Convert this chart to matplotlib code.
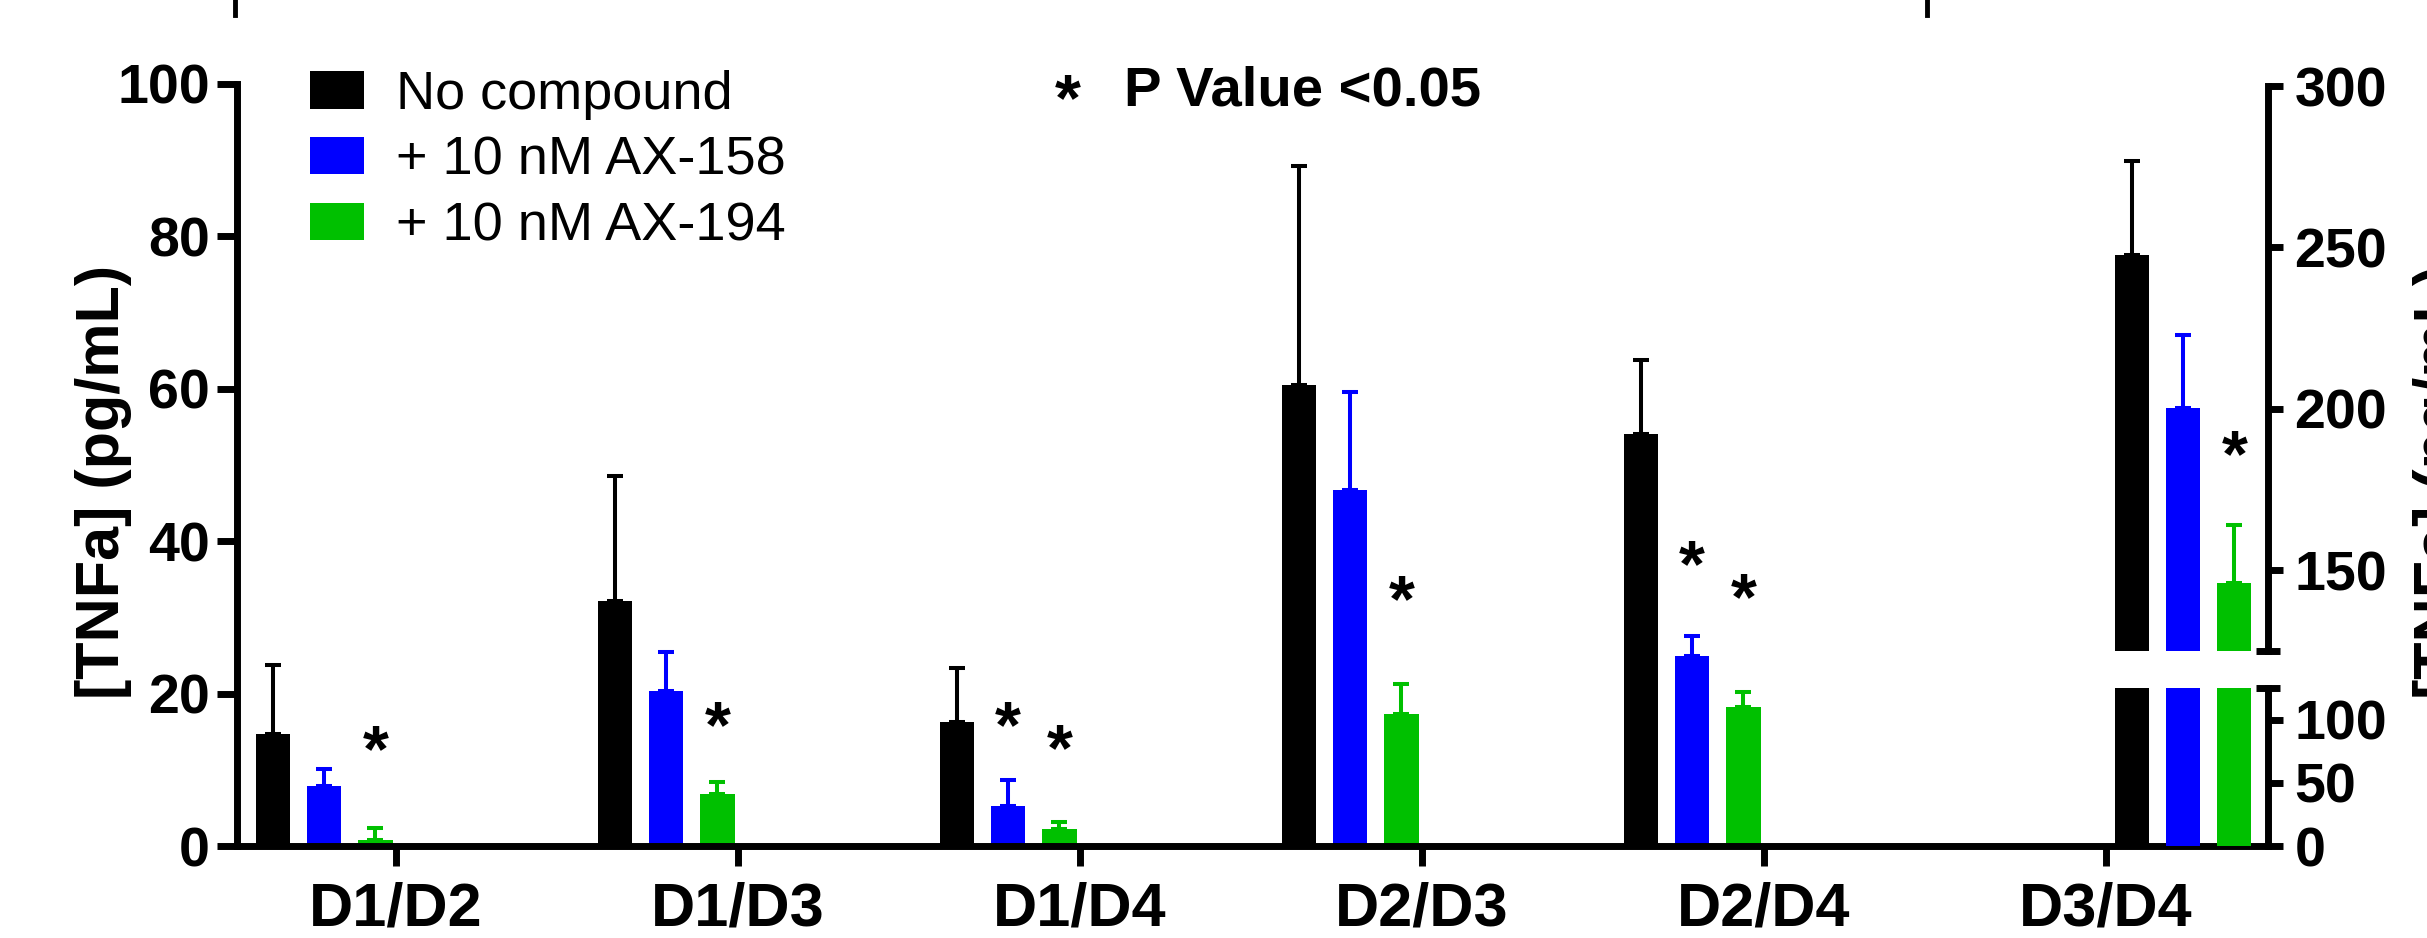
import numpy as np
import matplotlib.pyplot as plt
from matplotlib.lines import Line2D

plt.rcParams['font.family'] = ['Liberation Sans', 'DejaVu Sans']

# donor pairs and treatments
pairs = ['D1/D2', 'D1/D3', 'D1/D4', 'D2/D3', 'D2/D4', 'D3/D4']
series = ['No compound', '+ 10 nM AX-158', '+ 10 nM AX-194']
colors = ['#000000', '#0000FF', '#00C000']

# first five pairs on the left axis, [TNFa] pg/mL (mean, upper SD)
no_compound = [14.7, 32.1, 16.3, 60.5, 54.1]
no_compound_err = [9.1, 16.5, 7.0, 28.7, 9.7]
ax158 = [7.9, 20.3, 5.2, 46.7, 24.9]
ax158_err = [2.2, 5.2, 3.4, 12.9, 2.7]
ax194 = [0.8, 6.8, 2.2, 17.3, 18.2]
ax194_err = [1.6, 1.6, 0.9, 3.9, 2.0]

# D3/D4 on the right (broken) axis
d34 = [247.6, 200.3, 146.2]
d34_err = [29.3, 22.5, 17.9]

# where the significance stars sit (nan = none)
star_158 = [np.nan, np.nan, 17.0, np.nan, 38.1]
star_194 = [13.8, 17.0, 14.0, 33.6, 33.8]
star_d34 = [np.nan, np.nan, 188.8]

W, H = 2427, 938
fig = plt.figure(figsize=(W / 100, H / 100), dpi=100)


def px_box(x0, y0, x1, y1):
    # pixel box (top-down y) -> figure fraction rect
    return [x0 / W, 1 - y1 / H, (x1 - x0) / W, (y1 - y0) / H]


ax = fig.add_axes(px_box(237, 84, 2268, 846))
up = fig.add_axes(px_box(237, 86, 2268, 651))
lo = fig.add_axes(px_box(237, 688, 2268, 846))

xlim = ((237 - 396) / 342, (2268 - 396) / 342)
bw = 0.1
step = 0.15
fs_tick = 40
fs_star = 48
lw_axis = 5

vals = [no_compound, ax158, ax194]
errs = [no_compound_err, ax158_err, ax194_err]
x = np.arange(5)
for k in range(3):
    xs = x - 0.36 + step * k
    ax.bar(xs, vals[k], width=bw, color=colors[k], label=series[k])
    ax.errorbar(xs, vals[k], yerr=[np.zeros(5), errs[k]], fmt='none',
                ecolor=colors[k], elinewidth=2.9, capsize=6, capthick=2.9)

xd = 5 + 0.075 + step * np.arange(3)
for a in (up, lo):
    a.bar(xd, d34, width=bw, color=colors)
for k in range(3):
    up.errorbar(xd[k], d34[k], yerr=[[0], [d34_err[k]]], fmt='none',
                ecolor=colors[k], elinewidth=2.9, capsize=6, capthick=2.9)


def star(a, xx, yy):
    a.annotate('*', (xx, yy), xytext=(0, -0.46 * fs_star), textcoords='offset points',
               ha='center', va='baseline', fontsize=fs_star, fontweight='bold')


for i in range(5):
    if not np.isnan(star_158[i]):
        star(ax, i - 0.36 + step, star_158[i])
    if not np.isnan(star_194[i]):
        star(ax, i - 0.36 + 2 * step, star_194[i])
for k in range(3):
    if not np.isnan(star_d34[k]):
        star(up, xd[k], star_d34[k])

# left axis
ax.set_xlim(xlim)
ax.set_ylim(0, 100)
ax.set_yticks([0, 20, 40, 60, 80, 100])
ax.set_xticks(np.arange(6))
ax.set_xticklabels(pairs)
for s in ('top', 'right'):
    ax.spines[s].set_visible(False)
for s in ('left', 'bottom'):
    ax.spines[s].set_linewidth(lw_axis)
ax.tick_params(axis='y', length=14.4, width=lw_axis, pad=5, labelsize=fs_tick)
ax.tick_params(axis='x', length=14.4, width=lw_axis, pad=11, labelsize=44)
for t in ax.get_xticklabels() + ax.get_yticklabels():
    t.set_fontweight('bold')

# right broken axis
for a, lim, ticks in ((up, (125, 300), [150, 200, 250, 300]),
                      (lo, (0, 125), [0, 50, 100])):
    a.set_xlim(xlim)
    a.set_ylim(lim)
    a.set_yticks(ticks)
    a.patch.set_visible(False)
    for s in ('top', 'left', 'bottom'):
        a.spines[s].set_visible(False)
    a.spines['right'].set_linewidth(lw_axis)
    a.tick_params(axis='x', bottom=False, labelbottom=False)
    a.tick_params(axis='y', left=False, labelleft=False, right=True, labelright=True,
                  length=11, width=lw_axis, pad=8, labelsize=fs_tick)
    for t in a.get_yticklabels():
        t.set_fontweight('bold')
up.plot([1], [0], marker='_', ms=17, mew=lw_axis, color='k',
        transform=up.transAxes, clip_on=False)
lo.plot([1], [1], marker='_', ms=17, mew=lw_axis, color='k',
        transform=lo.transAxes, clip_on=False)

# axis titles
fig.text(104 / W, 1 - 482 / H, '[TNFa] (pg/mL)', rotation=90, ha='center', va='center',
         fontsize=44, fontweight='bold')
fig.text(2441 / W, 1 - 482 / H, '[TNFa] (pg/mL)', rotation=90, ha='center', va='center',
         fontsize=44, fontweight='bold')

# legend
ax.legend(loc='upper left', bbox_to_anchor=(310 / W, 1 - 70 / H),
          bbox_transform=fig.transFigure, frameon=False, fontsize=39,
          handlelength=1.0, handleheight=0.68, handletextpad=0.58,
          labelspacing=0.29, borderpad=0, borderaxespad=0)

fig.text(1068 / W, 1 - 120 / H, '*', ha='center', va='baseline', fontsize=48,
         fontweight='bold')
fig.text(1124 / W, 1 - 106 / H, 'P Value <0.05', ha='left', va='baseline',
         fontsize=40.5, fontweight='bold')

# cut-off marks at the top edge
for xm in (235, 1927):
    fig.add_artist(Line2D([xm / W, xm / W], [1, 1 - 15 / H], color='k', lw=3.5))

fig.savefig('out.png', dpi=100)
